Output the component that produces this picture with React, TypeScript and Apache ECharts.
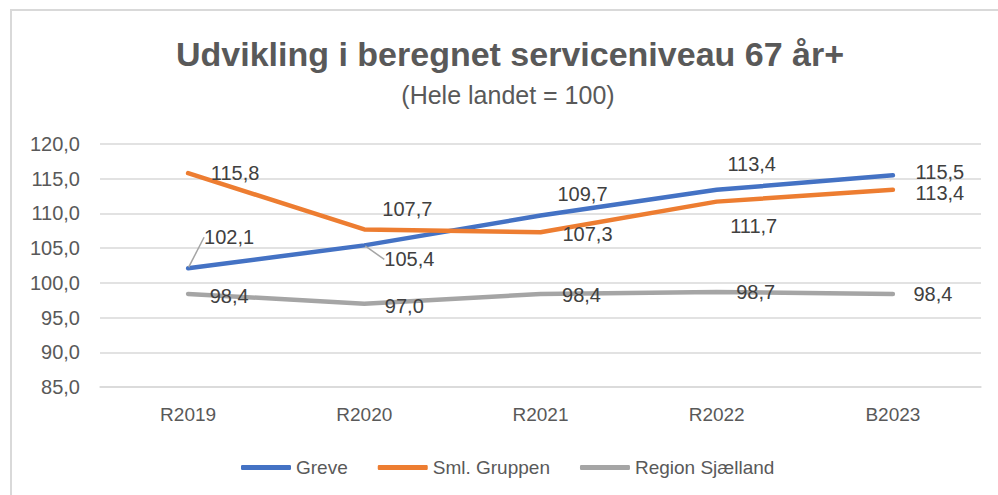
import React, { useEffect, useRef } from "react";
import * as echarts from "echarts";

const categories = ["R2019", "R2020", "R2021", "R2022", "B2023"];
const greve = [102.1, 105.4, 109.7, 113.4, 115.5];
const smlGruppen = [115.8, 107.7, 107.3, 111.7, 113.4];
const regionSjaelland = [98.4, 97.0, 98.4, 98.7, 98.4];
const seriesNames = ["Greve", "Sml. Gruppen", "Region Sjælland"];
const yTicks = { min: 85, max: 120, interval: 5 };

// label displacement (px) relative to each point
const greveLabelShift = [[41, -31], [45, 14], [42, -22], [35, -26], [47, -3]];
const smlLabelShift = [[47, 0], [43, -20], [47, 2], [37, 24], [47, 3]];
const regionLabelShift = [[41, 2], [40, 2], [41, 1], [39, 0], [40, 0]];

const FONT = "'Liberation Sans', Arial, sans-serif";
const fmt = (v: number) => v.toFixed(1).replace(".", ",");

export default function App() {
  const ref = useRef<HTMLDivElement>(null);
  useEffect(() => {
    if (!ref.current) return;
    const chart = echarts.init(ref.current, undefined, { renderer: "svg" });
    const mk = (name: string, data: number[], color: string, shifts: number[][], guides: number[]) => ({
      name,
      type: "line",
      data: data.map((v, i) =>
        guides.includes(i)
          ? { value: v, labelLine: { show: true, lineStyle: { color: "#a5a5a5", width: 1.5 } } }
          : v
      ),
      symbol: "circle",
      symbolSize: 2,
      showSymbol: true,
      itemStyle: { color },
      lineStyle: { color, width: 4.5, cap: "round", join: "round" },
      emphasis: { disabled: true },
      label: {
        show: true,
        position: "inside",
        formatter: (p: any) => fmt(p.value),
        color: "#404040",
        fontSize: 20,
        lineHeight: 18,
        fontFamily: FONT,
      },
      labelLine: { show: false },
      labelLayout: (p: any) => ({ dx: shifts[p.dataIndex][0], dy: shifts[p.dataIndex][1] }),
    });
    chart.setOption({
      animation: false,
      backgroundColor: "#ffffff",
      textStyle: { fontFamily: FONT },
      graphic: [
        {
          type: "rect",
          silent: true,
          z: -10,
          shape: { x: 11, y: 10, width: 1000, height: 500 },
          style: { fill: "#ffffff", stroke: "#d9d9d9", lineWidth: 2 },
        },
        {
          type: "text",
          x: 510,
          y: 54,
          style: {
            text: "Udvikling i beregnet serviceniveau 67 år+",
            fill: "#595959",
            font: `bold 34px ${FONT}`,
            textAlign: "center",
            textVerticalAlign: "middle",
          },
        },
        {
          type: "text",
          x: 508,
          y: 95,
          style: {
            text: "(Hele landet = 100)",
            fill: "#595959",
            font: `25px ${FONT}`,
            textAlign: "center",
            textVerticalAlign: "middle",
          },
        },
      ],
      legend: {
        data: seriesNames,
        left: 236,
        top: 453,
        icon: "roundRect",
        itemWidth: 50,
        itemHeight: 5,
        itemGap: 30,
        textStyle: { color: "#595959", fontSize: 19, fontFamily: FONT },
      },
      grid: { left: 100, right: 17, top: 144, bottom: 108 },
      xAxis: {
        type: "category",
        data: categories,
        boundaryGap: true,
        axisLine: { show: true, lineStyle: { color: "#d9d9d9", width: 1.5 } },
        axisTick: { show: false },
        axisLabel: { color: "#595959", fontSize: 19, fontFamily: FONT, margin: 18 },
      },
      yAxis: {
        type: "value",
        min: yTicks.min,
        max: yTicks.max,
        interval: yTicks.interval,
        axisLine: { show: false },
        axisTick: { show: false },
        axisLabel: { color: "#595959", fontSize: 20, fontFamily: FONT, margin: 20, formatter: (v: number) => fmt(v) },
        splitLine: { lineStyle: { color: "#d9d9d9", width: 1.5 } },
      },
      series: [
        mk(seriesNames[0], greve, "#4472C4", greveLabelShift, [0, 1]),
        mk(seriesNames[1], smlGruppen, "#ED7D31", smlLabelShift, []),
        mk(seriesNames[2], regionSjaelland, "#A5A5A5", regionLabelShift, []),
      ],
    });
    return () => chart.dispose();
  }, []);
  return <div ref={ref} style={{ position: "absolute", left: 0, top: 0, width: 998, height: 495 }} />;
}
